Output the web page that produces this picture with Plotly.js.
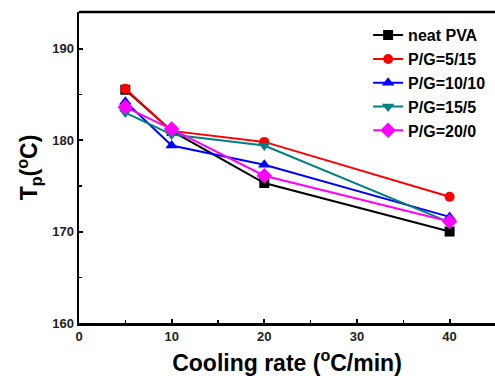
<!DOCTYPE html>
<html><head><meta charset="utf-8">
<script src="https://cdn.plot.ly/plotly-3.0.1.min.js"></script>
<style>html,body{margin:0;padding:0;background:#fff}#chart{width:495px;height:376px}</style>
</head><body><div id="chart"></div>
<script>
const coolingRates = [5, 10, 20, 40];
const seriesNames = ["neat PVA", "P/G=5/15", "P/G=10/10", "P/G=15/5", "P/G=20/0"];
const neatPVA = [185.5, 181.0, 175.3, 170.0];
const pg5_15 = [185.6, 181.0, 179.8, 173.8];
const pg10_10 = [184.2, 179.4, 177.3, 171.6];
const pg15_5 = [183.0, 180.6, 179.4, 171.0];
const pg20_0 = [183.6, 181.2, 176.1, 171.1];

const allValues = [neatPVA, pg5_15, pg10_10, pg15_5, pg20_0];
const colors = ["#000000", "#ff0000", "#0000ff", "#008080", "#ff00ff"];
const symbols = ["square", "circle", "triangle-up", "triangle-down", "diamond"];
const sizes = [10, 10, 11, 11, 12];

const traces = allValues.map((v, i) => ({
  x: coolingRates, y: v, name: seriesNames[i], type: "scatter", mode: "lines+markers",
  line: {color: colors[i], width: 2},
  marker: {color: colors[i], symbol: symbols[i], size: sizes[i]}
}));

const axisFont = {family: "Liberation Sans, Arial, sans-serif", size: 13, color: "#222", weight: "bold"};
const layout = {
  width: 495, height: 376,
  margin: {l: 79, r: 0, t: 12, b: 53},
  paper_bgcolor: "#fff", plot_bgcolor: "#fff",
  showlegend: true,
  legend: {x: 0.695, y: 0.98, xanchor: "left", yanchor: "top", bgcolor: "rgba(0,0,0,0)",
    font: {family: "Liberation Sans, Arial, sans-serif", size: 16, color: "#000", weight: "bold"},
    tracegroupgap: 0},
  xaxis: {
    range: [0, 44.9], tickvals: [0, 10, 20, 30, 40], ticktext: ["0", "10", "20", "30", "40"],
    showgrid: false, zeroline: false, showline: true, linecolor: "#000", linewidth: 2.5,
    ticks: "inside", ticklen: 4, tickwidth: 2, tickcolor: "#000",
    minor: {ticks: "inside", ticklen: 3, tickwidth: 1.5, tickcolor: "#000", dtick: 5, tick0: 0},
    tickfont: axisFont,
    title: {text: "Cooling rate (<sup>o</sup>C/min)", standoff: 14,
      font: {family: "Liberation Sans, Arial, sans-serif", size: 23, color: "#000", weight: "bold"}}
  },
  yaxis: {
    range: [160, 194], tickvals: [160, 170, 180, 190],
    showgrid: false, zeroline: false, showline: true, linecolor: "#000", linewidth: 2.5,
    ticks: "inside", ticklen: 4, tickwidth: 2, tickcolor: "#000",
    minor: {ticks: "inside", ticklen: 3, tickwidth: 1.5, tickcolor: "#000", dtick: 5, tick0: 160},
    tickfont: axisFont,
    title: {text: "T<sub>p</sub>(<sup>o</sup>C)", standoff: 8,
      font: {family: "Liberation Sans, Arial, sans-serif", size: 23, color: "#000", weight: "bold"}}
  },
  shapes: [{type: "line", xref: "paper", yref: "paper", x0: 0, x1: 1, y0: 1, y1: 1,
    line: {color: "#000", width: 2.5}}]
};
Plotly.newPlot("chart", traces, layout, {displayModeBar: false, staticPlot: true});
</script></body></html>
